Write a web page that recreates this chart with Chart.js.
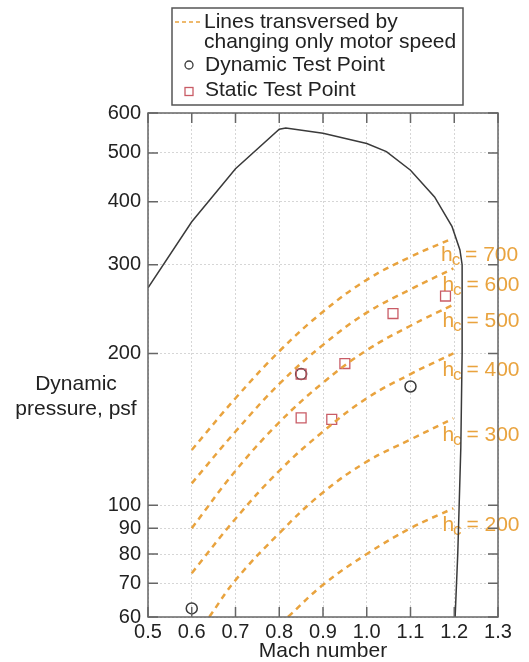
<!DOCTYPE html>
<html>
<head>
<meta charset="utf-8">
<script src="https://cdn.jsdelivr.net/npm/chart.js@4.4.1/dist/chart.umd.min.js"></script>
<style>
  html, body { margin: 0; padding: 0; background: #fff; }
</style>
</head>
<body>
<canvas id="myChart" width="529" height="662"></canvas>
<script>
// Axis ticks
var machTicks = [0.5, 0.6, 0.7, 0.8, 0.9, 1.0, 1.1, 1.2, 1.3];
var qTicks = [60, 70, 80, 90, 100, 200, 300, 400, 500, 600];

// Tunnel operating envelope (Mach, psf)
var envelopeMach = [0.5, 0.6, 0.7, 0.8, 0.815, 0.9, 1.0, 1.045, 1.1, 1.155, 1.195, 1.213, 1.218, 1.218, 1.215, 1.208, 1.202];
var envelopeQ    = [270, 365, 465, 557, 560, 547, 522, 503, 462, 409, 357, 321, 300, 200, 130, 80, 60];

// Constant stagnation-height lines (motor speed only)
var hcValues = [700, 600, 500, 400, 300, 200];
var mach700 = [0.6, 0.7, 0.8, 0.9, 1.0, 1.1, 1.195];
var q700    = [128.7, 163, 202, 242, 280, 311, 338];
var mach600 = [0.6, 0.7, 0.8, 0.9, 1.0, 1.1, 1.198];
var q600    = [110.5, 140, 174, 208, 241, 268, 295];
var mach500 = [0.6, 0.7, 0.8, 0.9, 1.0, 1.1, 1.198];
var q500    = [90, 117, 146, 175, 203, 227, 250];
var mach400 = [0.6, 0.7, 0.8, 0.9, 1.0, 1.1, 1.198];
var q400    = [73.3, 94, 117, 140, 163, 182, 200];
var mach300 = [0.64, 0.7, 0.8, 0.9, 1.0, 1.1, 1.198];
var q300    = [60, 71, 88, 106, 122, 135, 148.7];
var mach200 = [0.82, 0.9, 1.0, 1.1, 1.198];
var q200    = [60, 69.5, 80, 90, 98.6];

// Test points
var dynamicMach = [0.6, 0.85, 1.1];
var dynamicQ    = [62.4, 182, 172];
var staticMach  = [0.85, 0.85, 0.92, 0.95, 1.06, 1.18];
var staticQ     = [182, 149, 148, 191, 240, 260];

var FONT = '"Liberation Sans", Arial, Helvetica, sans-serif';
var ORANGE = '#e9a33e';
var DARK = '#3a3a3a';
var RED = '#c95c66';

function pairs(xs, ys) {
    var out = [];
    for (let i = 0; i < xs.length; i++) {
        out.push({x: xs[i], y: ys[i]});
    }
    return out;
}

var hcMach = [mach700, mach600, mach500, mach400, mach300, mach200];
var hcQ = [q700, q600, q500, q400, q300, q200];

var datasets = [
    {
        label: 'envelope',
        data: pairs(envelopeMach, envelopeQ),
        showLine: true,
        borderColor: DARK,
        borderWidth: 1.5,
        pointRadius: 0,
        tension: 0
    }
];
for (let i = 0; i < hcValues.length; i++) {
    datasets.push({
        label: 'hc ' + hcValues[i],
        data: pairs(hcMach[i], hcQ[i]),
        showLine: true,
        borderColor: ORANGE,
        borderWidth: 2.5,
        borderDash: [6, 5],
        pointRadius: 0,
        tension: 0.4
    });
}
datasets.push({
    label: 'Static Test Point',
    data: pairs(staticMach, staticQ),
    showLine: false,
    pointStyle: 'rect',
    pointRadius: 7,
    borderColor: RED,
    borderWidth: 1.3,
    backgroundColor: 'rgba(0,0,0,0)'
});
datasets.push({
    label: 'Dynamic Test Point',
    data: pairs(dynamicMach, dynamicQ),
    showLine: false,
    pointStyle: 'circle',
    pointRadius: 5.5,
    borderColor: DARK,
    borderWidth: 1.5,
    backgroundColor: 'rgba(0,0,0,0)'
});

// Frame, inward ticks, titles, legend and h_c labels
var decorations = {
    id: 'decorations',
    beforeDatasetsDraw: function(chart) {
        var ctx = chart.ctx;
        var xs = chart.scales.x, ys = chart.scales.y;
        ctx.save();
        ctx.fillStyle = ORANGE;
        ctx.textBaseline = 'middle';
        ctx.textAlign = 'left';
        for (let i = 0; i < hcValues.length; i++) {
            var m = hcMach[i], q = hcQ[i];
            var px = xs.getPixelForValue(m[m.length - 1]) - 11;
            var py = ys.getPixelForValue(q[q.length - 1]) + 17;
            ctx.font = '21px ' + FONT;
            ctx.fillText('h', px, py);
            var w = ctx.measureText('h').width;
            ctx.font = '17px ' + FONT;
            ctx.fillText('c', px + w - 1, py + 5);
            var w2 = ctx.measureText('c').width;
            ctx.font = '21px ' + FONT;
            ctx.fillText(' = ' + hcValues[i], px + w + w2 - 2, py);
        }
        ctx.restore();
    },
    afterDraw: function(chart) {
        var ctx = chart.ctx;
        var a = chart.chartArea;
        var xs = chart.scales.x, ys = chart.scales.y;
        ctx.save();

        // plot frame
        ctx.strokeStyle = '#666';
        ctx.lineWidth = 1.5;
        ctx.strokeRect(a.left, a.top, a.right - a.left, a.bottom - a.top);

        // inward tick marks on all four sides
        ctx.beginPath();
        machTicks.forEach(function(v) {
            var px = xs.getPixelForValue(v);
            ctx.moveTo(px, a.bottom); ctx.lineTo(px, a.bottom - 10);
            ctx.moveTo(px, a.top); ctx.lineTo(px, a.top + 10);
        });
        qTicks.forEach(function(v) {
            var py = ys.getPixelForValue(v);
            ctx.moveTo(a.left, py); ctx.lineTo(a.left + 10, py);
            ctx.moveTo(a.right, py); ctx.lineTo(a.right - 10, py);
        });
        ctx.stroke();

        // axis titles
        ctx.fillStyle = '#222';
        ctx.font = '21px ' + FONT;
        ctx.textAlign = 'center';
        ctx.textBaseline = 'middle';
        ctx.fillText('Dynamic', 76, 384);
        ctx.fillText('pressure, psf', 76, 409);
        ctx.fillText('Mach number', (a.left + a.right) / 2, 651);

        // legend
        ctx.fillStyle = '#fff';
        ctx.fillRect(172, 8, 291, 97);
        ctx.strokeStyle = '#555';
        ctx.lineWidth = 1.5;
        ctx.strokeRect(172, 8, 291, 97);

        ctx.strokeStyle = ORANGE;
        ctx.lineWidth = 1.5;
        ctx.setLineDash([4, 3]);
        ctx.beginPath();
        ctx.moveTo(175, 22);
        ctx.lineTo(202, 22);
        ctx.stroke();
        ctx.setLineDash([]);

        ctx.strokeStyle = DARK;
        ctx.lineWidth = 1.3;
        ctx.beginPath();
        ctx.arc(189, 65, 4, 0, Math.PI * 2);
        ctx.stroke();

        ctx.strokeStyle = RED;
        ctx.strokeRect(185, 87.5, 8, 8);

        ctx.fillStyle = '#222';
        ctx.font = '21px ' + FONT;
        ctx.textAlign = 'left';
        ctx.fillText('Lines transversed by', 204, 22);
        ctx.fillText('changing only motor speed', 204, 42);
        ctx.fillText('Dynamic Test Point', 205, 65);
        ctx.fillText('Static Test Point', 205, 90);
        ctx.restore();
    }
};

var ctx = document.getElementById('myChart').getContext('2d');
new Chart(ctx, {
    type: 'scatter',
    data: { datasets: datasets },
    options: {
        responsive: false,
        animation: false,
        layout: { padding: { top: 113, right: 31, left: 0, bottom: 0 } },
        plugins: {
            legend: { display: false },
            tooltip: { enabled: false }
        },
        scales: {
            x: {
                type: 'linear',
                min: 0.5,
                max: 1.3,
                afterBuildTicks: function(scale) {
                    scale.ticks = machTicks.map(function(v) { return {value: v}; });
                },
                afterFit: function(scale) { scale.height = 45; },
                grid: { color: '#d6d6d6', drawTicks: false },
                border: { display: false, dash: [2, 2] },
                ticks: {
                    autoSkip: false,
                    maxRotation: 0,
                    padding: 3,
                    color: '#222',
                    font: { family: FONT, size: 20 },
                    callback: function(v) { return Number(v).toFixed(1); }
                }
            },
            y: {
                type: 'logarithmic',
                min: 60,
                max: 600,
                afterBuildTicks: function(scale) {
                    scale.ticks = qTicks.map(function(v) { return {value: v}; });
                },
                afterFit: function(scale) { scale.width = 148; },
                grid: { color: '#d6d6d6', drawTicks: false },
                border: { display: false, dash: [2, 2] },
                ticks: {
                    autoSkip: false,
                    padding: 7,
                    color: '#222',
                    font: { family: FONT, size: 20 },
                    callback: function(v) { return String(v); }
                }
            }
        }
    },
    plugins: [decorations]
});
</script>
</body>
</html>
